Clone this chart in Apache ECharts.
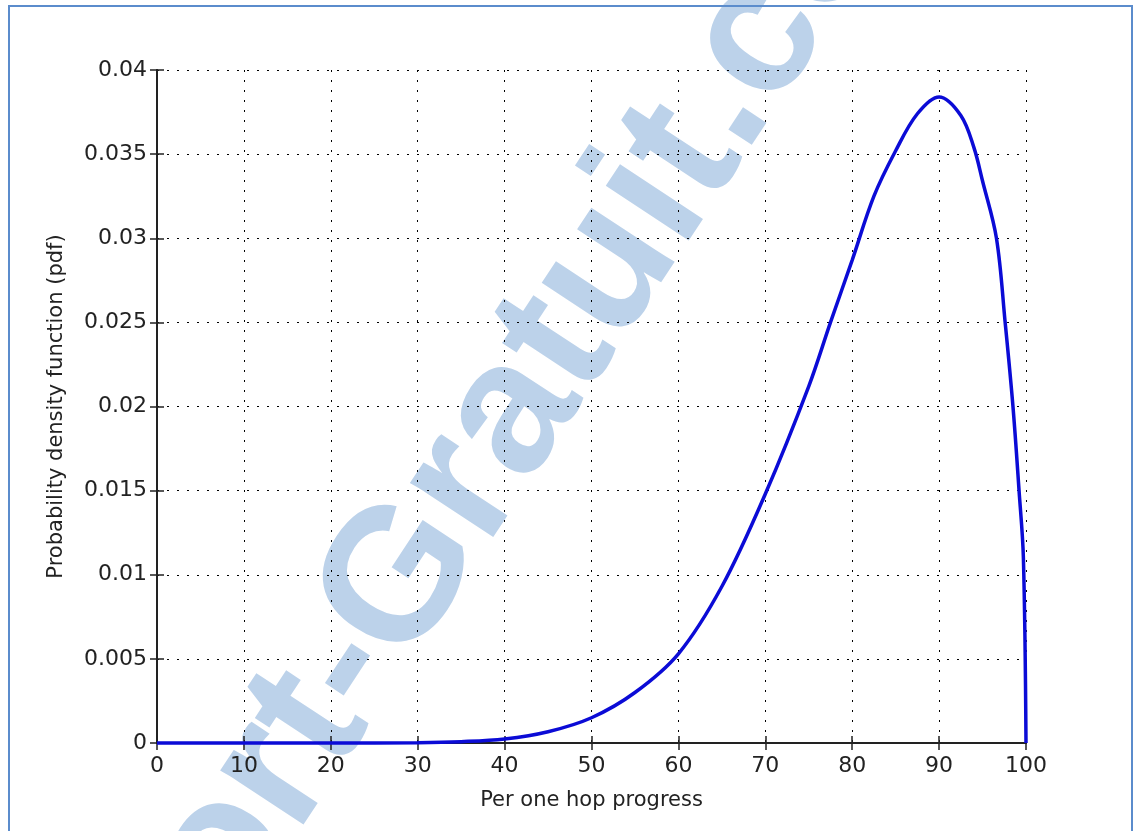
<!DOCTYPE html>
<html>
<head>
    <meta charset="UTF-8">
    <title>Per one hop progress - pdf</title>
    <script src="https://cdn.jsdelivr.net/npm/echarts@6/dist/echarts.min.js"></script>
    <style>
        html, body { margin: 0; padding: 0; background: #fff; }
        #pdf { width: 1133px; height: 831px; }
    </style>
</head>
<body>
<div id="pdf"></div>
<script type="text/javascript">
    // values
    var progress = [0, 10, 20, 30, 35, 40, 45, 50, 55, 60, 65, 70, 75, 77.5, 80, 82.5, 85, 87.5, 90, 92.5, 94, 95, 96.6, 97.6, 98.5, 99.2, 99.7, 100];
    var pdfValues = [0, 0, 0, 0.00002, 0.00008, 0.00024, 0.00067, 0.0015, 0.003, 0.0053, 0.0093, 0.0148, 0.0212, 0.025, 0.0287, 0.0325, 0.0352, 0.0374, 0.0384, 0.0373, 0.0354, 0.0334, 0.030, 0.025, 0.020, 0.015, 0.011, 0];
    var xTicks = [0, 100, 10];
    var yTicks = [0, 0.04, 0.005];

    var points = progress.map(function (x, i) { return [x, pdfValues[i]]; });

    var chart = echarts.init(document.getElementById('pdf'));

    var font = 'DejaVu Sans';
    var dotted = { color: '#000', width: 1, type: [2, 8] };
    var boxLine = { show: true, lineStyle: { color: '#222', width: 2 } };
    var tick = { show: true, inside: true, length: 7, lineStyle: { color: '#222', width: 1.5 } };

    var option = {
        animation: false,
        backgroundColor: '#fff',
        graphic: [
            {
                // watermark of the source picture
                type: 'text',
                z: -1,
                x: 437, y: 528,
                rotation: 56.6 * Math.PI / 180,
                style: {
                    text: 'Rapport-Gratuit.com',
                    font: 'bold 188px "Liberation Sans"',
                    fill: '#bcd2ea',
                    align: 'center',
                    verticalAlign: 'middle'
                }
            },
            {
                type: 'polyline',
                z: 10,
                shape: { points: [[9, 831], [9, 6], [1132, 6], [1132, 831]] },
                style: { stroke: '#5b8ccc', lineWidth: 2, fill: null }
            }
        ],
        grid: { left: 157, right: 107, top: 70, bottom: 88 },
        xAxis: [
            {
                type: 'value',
                min: xTicks[0], max: xTicks[1], interval: xTicks[2],
                name: 'Per one hop progress',
                nameLocation: 'middle',
                nameGap: 47,
                nameTextStyle: { fontFamily: font, fontSize: 21, color: '#222' },
                axisLine: boxLine,
                axisTick: tick,
                axisLabel: { fontFamily: font, fontSize: 22, color: '#222', margin: 12 },
                splitLine: { show: true, lineStyle: dotted }
            },
            {
                type: 'value', position: 'top',
                min: xTicks[0], max: xTicks[1], interval: xTicks[2],
                axisLine: boxLine, axisTick: tick,
                axisLabel: { show: false }, splitLine: { show: false }
            }
        ],
        yAxis: [
            {
                type: 'value',
                min: yTicks[0], max: yTicks[1], interval: yTicks[2],
                name: 'Probability density function (pdf)',
                nameLocation: 'middle',
                nameGap: 90,
                nameTextStyle: { fontFamily: font, fontSize: 21, color: '#222' },
                axisLine: boxLine,
                axisTick: tick,
                axisLabel: { fontFamily: font, fontSize: 22, color: '#222', margin: 10 },
                splitLine: { show: true, lineStyle: dotted }
            },
            {
                type: 'value', position: 'right',
                min: yTicks[0], max: yTicks[1], interval: yTicks[2],
                axisLine: boxLine, axisTick: tick,
                axisLabel: { show: false }, splitLine: { show: false }
            }
        ],
        series: [
            {
                name: 'pdf',
                type: 'line',
                data: points,
                smooth: 0.35,
                showSymbol: false,
                clip: false,
                lineStyle: { color: '#0b0bd6', width: 3.5 },
                z: 5
            }
        ]
    };

    chart.setOption(option);
</script>
</body>
</html>
